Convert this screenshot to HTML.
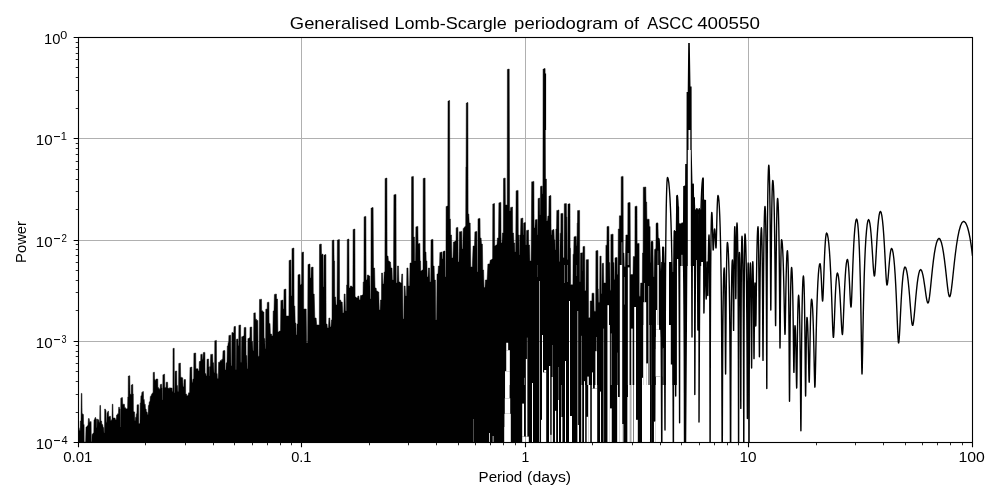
<!DOCTYPE html><html><head><meta charset="utf-8"><style>html,body{margin:0;padding:0;background:#fff}body{width:1000px;height:500px;overflow:hidden;font-family:"Liberation Sans",sans-serif}</style></head><body><svg width="1000" height="500" viewBox="0 0 1000 500" style="display:block;will-change:transform;opacity:0.999">
<rect width="1000" height="500" fill="#fff"/>
<path d="M78.50 37.5V442.5M301.50 37.5V442.5M525.50 37.5V442.5M748.50 37.5V442.5M972.50 37.5V442.5M78.5 37.50H972.5M78.5 138.50H972.5M78.5 240.50H972.5M78.5 341.50H972.5M78.5 442.50H972.5" stroke="#b0b0b0" stroke-width="1" fill="none"/>
<defs><clipPath id="c"><rect x="78.5" y="37.5" width="894.0" height="405.0"/></clipPath></defs>
<g clip-path="url(#c)"><mask id="gm" maskUnits="userSpaceOnUse" x="0" y="0" width="1000" height="500"><rect width="1000" height="500" fill="#fff"/><rect x="505.04" y="385.00" width="4.56" height="13.20" fill="#000" fill-opacity="1.00"/><rect x="504.80" y="398.20" width="5.40" height="15.60" fill="#000" fill-opacity="1.00"/><rect x="504.44" y="413.80" width="6.36" height="13.20" fill="#000" fill-opacity="1.00"/><rect x="504.20" y="427.00" width="6.60" height="16.80" fill="#000" fill-opacity="1.00"/><rect x="505.04" y="371.20" width="4.80" height="13.80" fill="#000" fill-opacity="1.00"/><rect x="506.24" y="350.20" width="3.60" height="21.00" fill="#000" fill-opacity="1.00"/><rect x="506.24" y="342.76" width="1.92" height="7.44" fill="#000" fill-opacity="1.00"/><rect x="522.20" y="403.60" width="1.80" height="33.00" fill="#000" fill-opacity="1.00"/><rect x="522.20" y="436.60" width="6.60" height="7.20" fill="#000" fill-opacity="1.00"/><rect x="525.80" y="385.00" width="1.56" height="51.60" fill="#000" fill-opacity="1.00"/><rect x="525.80" y="358.96" width="1.56" height="26.04" fill="#000" fill-opacity="1.00"/><rect x="526.88" y="337.60" width="0.72" height="21.36" fill="#000" fill-opacity="0.50"/><rect x="524.00" y="377.80" width="0.72" height="7.20" fill="#000" fill-opacity="0.50"/><rect x="532.00" y="383.00" width="1.00" height="63.00" fill="#000" fill-opacity="1.00"/><rect x="539.00" y="281.00" width="1.00" height="165.00" fill="#000" fill-opacity="0.60"/><rect x="537.30" y="265.00" width="0.60" height="12.00" fill="#000" fill-opacity="0.30"/><rect x="541.04" y="419.80" width="0.96" height="24.00" fill="#000" fill-opacity="1.00"/><rect x="542.00" y="385.00" width="4.20" height="58.80" fill="#000" fill-opacity="1.00"/><rect x="542.96" y="372.40" width="3.24" height="12.60" fill="#000" fill-opacity="1.00"/><rect x="544.16" y="370.00" width="2.04" height="2.40" fill="#000" fill-opacity="1.00"/><rect x="542.00" y="335.00" width="1.00" height="51.00" fill="#000" fill-opacity="1.00"/><rect x="550.40" y="434.80" width="1.20" height="9.00" fill="#000" fill-opacity="1.00"/><rect x="549.00" y="366.00" width="1.20" height="80.00" fill="#000" fill-opacity="1.00"/><rect x="551.70" y="377.00" width="1.20" height="69.00" fill="#000" fill-opacity="1.00"/><rect x="552.20" y="345.00" width="0.60" height="32.00" fill="#000" fill-opacity="0.50"/><rect x="554.96" y="410.80" width="1.20" height="33.00" fill="#000" fill-opacity="1.00"/><rect x="558.00" y="400.00" width="1.00" height="46.00" fill="#000" fill-opacity="1.00"/><rect x="558.20" y="367.00" width="0.70" height="33.00" fill="#000" fill-opacity="0.45"/><rect x="561.00" y="417.00" width="1.40" height="29.00" fill="#000" fill-opacity="1.00"/><rect x="561.20" y="385.00" width="0.80" height="32.00" fill="#000" fill-opacity="0.50"/><rect x="565.00" y="361.00" width="1.00" height="85.00" fill="#000" fill-opacity="1.00"/><rect x="569.00" y="301.00" width="1.00" height="145.00" fill="#000" fill-opacity="1.00"/><rect x="569.20" y="416.00" width="2.80" height="30.00" fill="#000" fill-opacity="1.00"/><rect x="577.30" y="311.00" width="0.90" height="114.00" fill="#000" fill-opacity="0.70"/><rect x="577.40" y="425.00" width="1.60" height="21.00" fill="#000" fill-opacity="1.00"/><rect x="581.24" y="385.00" width="0.96" height="58.80" fill="#000" fill-opacity="1.00"/><rect x="581.24" y="335.80" width="0.72" height="49.20" fill="#000" fill-opacity="0.50"/><rect x="584.00" y="385.00" width="1.20" height="58.80" fill="#000" fill-opacity="1.00"/><rect x="584.00" y="381.16" width="0.96" height="3.84" fill="#000" fill-opacity="1.00"/><rect x="586.64" y="416.80" width="1.56" height="27.00" fill="#000" fill-opacity="1.00"/><rect x="588.20" y="385.00" width="2.04" height="58.80" fill="#000" fill-opacity="1.00"/><rect x="587.36" y="376.60" width="1.44" height="8.40" fill="#000" fill-opacity="1.00"/><rect x="591.80" y="388.60" width="5.40" height="55.20" fill="#000" fill-opacity="1.00"/><rect x="591.80" y="385.00" width="1.20" height="3.60" fill="#000" fill-opacity="1.00"/><rect x="594.80" y="385.00" width="2.40" height="3.60" fill="#000" fill-opacity="1.00"/><rect x="592.04" y="372.40" width="0.96" height="12.60" fill="#000" fill-opacity="1.00"/><rect x="595.40" y="351.16" width="1.56" height="33.84" fill="#000" fill-opacity="1.00"/><rect x="596.00" y="337.00" width="0.72" height="14.16" fill="#000" fill-opacity="0.50"/><rect x="600.00" y="391.60" width="0.96" height="52.20" fill="#000" fill-opacity="1.00"/><rect x="603.24" y="328.60" width="0.84" height="115.20" fill="#000" fill-opacity="0.50"/><rect x="607.44" y="305.20" width="1.56" height="19.80" fill="#000" fill-opacity="1.00"/><rect x="607.44" y="325.00" width="2.40" height="118.80" fill="#000" fill-opacity="1.00"/><rect x="609.84" y="408.40" width="1.92" height="35.40" fill="#000" fill-opacity="1.00"/><rect x="610.80" y="333.40" width="0.96" height="51.60" fill="#000" fill-opacity="0.50"/><rect x="617.16" y="352.60" width="0.84" height="32.40" fill="#000" fill-opacity="0.30"/><rect x="617.16" y="385.00" width="0.84" height="58.80" fill="#000" fill-opacity="1.00"/><rect x="618.00" y="397.00" width="1.80" height="46.80" fill="#000" fill-opacity="1.00"/><rect x="621.24" y="242.20" width="1.20" height="22.80" fill="#000" fill-opacity="0.40"/><rect x="619.80" y="265.00" width="2.40" height="178.80" fill="#000" fill-opacity="1.00"/><rect x="622.20" y="424.00" width="1.20" height="19.80" fill="#000" fill-opacity="1.00"/><rect x="624.00" y="277.00" width="0.84" height="27.60" fill="#000" fill-opacity="0.40"/><rect x="627.60" y="253.00" width="1.56" height="12.00" fill="#000" fill-opacity="0.50"/><rect x="627.84" y="267.40" width="1.68" height="117.60" fill="#000" fill-opacity="1.00"/><rect x="627.96" y="385.00" width="1.92" height="58.80" fill="#000" fill-opacity="1.00"/><rect x="627.36" y="397.00" width="0.84" height="46.80" fill="#000" fill-opacity="1.00"/><rect x="630.96" y="328.60" width="1.92" height="56.40" fill="#000" fill-opacity="0.75"/><rect x="630.00" y="385.00" width="0.60" height="58.80" fill="#000" fill-opacity="1.00"/><rect x="630.60" y="385.00" width="0.60" height="58.80" fill="#000" fill-opacity="0.50"/><rect x="631.20" y="385.00" width="1.80" height="58.80" fill="#000" fill-opacity="1.00"/><rect x="633.00" y="385.00" width="0.96" height="58.80" fill="#000" fill-opacity="0.50"/><rect x="633.96" y="385.00" width="2.04" height="58.80" fill="#000" fill-opacity="1.00"/><rect x="634.20" y="307.00" width="1.80" height="78.00" fill="#000" fill-opacity="1.00"/><rect x="636.00" y="419.80" width="1.80" height="24.00" fill="#000" fill-opacity="1.00"/><rect x="642.00" y="385.00" width="8.16" height="58.80" fill="#000" fill-opacity="1.00"/><rect x="643.20" y="325.00" width="3.00" height="60.00" fill="#000" fill-opacity="1.00"/><rect x="642.00" y="377.80" width="1.20" height="7.20" fill="#000" fill-opacity="1.00"/><rect x="646.20" y="363.40" width="1.80" height="21.60" fill="#000" fill-opacity="1.00"/><rect x="648.00" y="325.00" width="2.16" height="60.00" fill="#000" fill-opacity="0.50"/><rect x="643.44" y="302.20" width="2.76" height="22.80" fill="#000" fill-opacity="1.00"/><rect x="644.16" y="283.00" width="0.84" height="19.20" fill="#000" fill-opacity="0.60"/><rect x="648.00" y="286.00" width="1.20" height="39.00" fill="#000" fill-opacity="0.50"/><rect x="650.16" y="385.00" width="1.20" height="58.80" fill="#000" fill-opacity="0.50"/><rect x="651.00" y="325.00" width="0.84" height="60.00" fill="#000" fill-opacity="0.40"/><rect x="657.36" y="265.00" width="1.44" height="60.00" fill="#000" fill-opacity="1.00"/><rect x="655.80" y="310.00" width="1.56" height="15.00" fill="#000" fill-opacity="1.00"/><rect x="655.80" y="325.00" width="3.24" height="4.80" fill="#000" fill-opacity="1.00"/><rect x="655.80" y="329.80" width="4.80" height="7.20" fill="#000" fill-opacity="1.00"/><rect x="655.44" y="337.00" width="6.36" height="12.00" fill="#000" fill-opacity="1.00"/><rect x="655.20" y="349.00" width="7.20" height="27.60" fill="#000" fill-opacity="1.00"/><rect x="655.80" y="376.60" width="6.00" height="8.40" fill="#000" fill-opacity="1.00"/><rect x="655.20" y="385.00" width="6.00" height="58.80" fill="#000" fill-opacity="1.00"/><rect x="653.76" y="421.00" width="1.44" height="22.80" fill="#000" fill-opacity="1.00"/><rect x="657.36" y="250.60" width="0.96" height="14.40" fill="#000" fill-opacity="0.40"/><rect x="688.50" y="130.00" width="1.80" height="20.00" fill="#000" fill-opacity="1.00"/><rect x="687.80" y="150.00" width="3.00" height="117.00" fill="#000" fill-opacity="1.00"/><rect x="676.90" y="259.00" width="2.70" height="8.00" fill="#000" fill-opacity="1.00"/><rect x="681.10" y="254.80" width="1.80" height="12.20" fill="#000" fill-opacity="0.50"/><rect x="695.80" y="260.00" width="2.10" height="7.00" fill="#000" fill-opacity="1.00"/><rect x="701.20" y="262.00" width="1.80" height="5.00" fill="#000" fill-opacity="1.00"/><rect x="698.20" y="214.00" width="0.40" height="46.00" fill="#000" fill-opacity="0.40"/><rect x="663.00" y="348.00" width="0.60" height="37.00" fill="#000" fill-opacity="0.50"/><rect x="473.00" y="419.00" width="0.60" height="27.00" fill="#000" fill-opacity="0.50"/><rect x="489.00" y="433.00" width="1.00" height="13.00" fill="#000" fill-opacity="0.80"/><rect x="492.70" y="436.00" width="0.80" height="10.00" fill="#000" fill-opacity="0.90"/><rect x="564.20" y="265.00" width="0.80" height="18.00" fill="#000" fill-opacity="0.45"/><rect x="567.20" y="265.00" width="0.80" height="17.00" fill="#000" fill-opacity="0.45"/><rect x="576.20" y="265.00" width="0.60" height="11.00" fill="#000" fill-opacity="0.40"/></mask><g mask="url(#gm)"><path d="M78.2 445.5L78.2 427.6L79.0 427.6L79.4 430.6L80.1 430.6L80.3 421.0L81.0 421.0L81.3 393.4L81.9 393.4L82.1 413.8L82.7 413.8L82.9 414.4L83.4 414.4L83.6 424.6L84.1 424.6L84.2 442.0L84.7 442.0L84.9 442.0L85.6 442.0L86.0 427.0L86.8 427.0L87.2 425.8L88.0 425.8L88.4 418.6L89.2 418.6L89.6 422.2L90.3 422.2L90.5 421.6L91.1 421.6L91.3 441.4L91.9 441.4L92.1 434.2L92.8 434.2L93.2 433.0L93.8 433.0L94.0 419.8L94.6 419.8L95.0 417.6L95.7 417.6L96.0 419.2L96.5 419.2L96.6 427.6L97.0 427.6L97.2 419.2L97.8 419.2L98.1 419.8L98.7 419.8L99.0 422.2L99.7 422.2L99.9 405.4L100.5 405.4L100.8 421.0L101.6 421.0L101.9 424.6L102.7 424.6L103.1 427.6L103.7 427.6L104.0 433.0L104.5 433.0L104.7 409.0L105.3 409.0L105.5 410.2L106.0 410.2L106.2 422.2L106.8 422.2L107.1 412.6L107.7 412.6L107.9 411.2L108.5 411.2L108.7 416.8L109.4 416.8L109.7 416.2L110.4 416.2L110.7 420.4L111.3 420.4L111.5 419.8L112.0 419.8L112.3 404.2L112.9 404.2L113.1 418.0L113.8 418.0L114.2 418.0L115.0 418.0L115.4 419.8L116.2 419.8L116.6 415.0L117.3 415.0L117.6 413.8L118.4 413.8L118.7 407.2L119.4 407.2L119.6 409.0L120.1 409.0L120.2 427.0L120.6 427.0L120.8 398.2L121.4 398.2L121.7 397.6L122.4 397.6L122.7 404.2L123.3 404.2L123.6 404.2L124.4 404.2L124.7 407.8L125.6 407.8L125.9 409.0L126.7 409.0L127.0 408.4L127.6 408.4L127.8 397.0L128.2 397.0L128.3 376.0L128.8 376.0L129.2 375.8L129.8 375.8L130.0 394.0L130.5 394.0L130.7 394.6L131.2 394.6L131.3 385.0L131.8 385.0L132.2 384.4L132.8 384.4L132.9 394.0L133.3 394.0L133.4 411.4L133.9 411.4L134.1 412.0L134.6 412.0L134.8 420.4L135.3 420.4L135.5 417.4L136.1 417.4L136.4 413.8L136.9 413.8L137.1 404.8L137.7 404.8L138.0 404.8L138.6 404.8L138.8 423.4L139.3 423.4L139.5 423.4L140.0 423.4L140.2 403.0L140.7 403.0L140.9 395.8L141.6 395.8L141.9 392.2L142.5 392.2L142.8 391.6L143.4 391.6L143.6 399.4L144.2 399.4L144.5 404.2L145.2 404.2L145.5 409.0L146.1 409.0L146.4 412.0L147.1 412.0L147.5 414.4L148.1 414.4L148.4 405.4L149.0 405.4L149.3 401.8L150.0 401.8L150.3 396.4L151.0 396.4L151.4 394.6L151.9 394.6L152.0 393.4L152.4 393.4L152.7 392.8L153.1 392.8L153.2 372.4L153.7 372.4L153.9 372.2L154.4 372.2L154.6 379.6L155.1 379.6L155.3 380.2L155.9 380.2L156.1 379.0L156.8 379.0L157.1 379.0L157.8 379.0L157.9 387.4L158.5 387.4L158.7 388.6L159.3 388.6L159.6 389.2L160.1 389.2L160.3 384.4L160.8 384.4L161.1 384.2L161.6 384.2L161.8 388.0L162.1 388.0L162.2 400.0L162.7 400.0L162.9 374.8L163.6 374.8L164.0 374.2L164.6 374.2L164.8 387.4L165.3 387.4L165.5 387.4L166.1 387.4L166.2 382.2L166.8 382.2L167.1 382.2L167.6 382.2L167.8 388.0L168.3 388.0L168.6 388.6L169.3 388.6L169.5 387.8L170.2 387.8L170.6 388.0L171.3 388.0L171.5 388.0L172.1 388.0L172.3 391.6L172.9 391.6L173.0 348.4L173.5 348.4L173.7 348.2L174.2 348.2L174.3 392.8L174.9 392.8L175.1 371.2L175.7 371.2L176.0 371.0L176.7 371.0L176.9 385.6L177.5 385.6L177.8 391.6L178.5 391.6L178.8 363.4L179.5 363.4L179.7 363.0L180.4 363.0L180.7 377.2L181.5 377.2L181.8 377.8L182.7 377.8L183.0 386.8L183.8 386.8L184.1 379.6L184.7 379.6L184.9 379.6L185.5 379.6L185.7 394.0L186.5 394.0L186.9 395.8L188.0 395.8L188.6 392.8L189.6 392.8L190.0 367.4L190.8 367.4L191.2 367.0L191.8 367.0L192.0 382.6L192.6 382.6L193.0 379.0L193.7 379.0L193.9 353.2L194.7 353.2L195.0 353.0L195.7 353.0L195.9 368.8L196.6 368.8L196.9 368.8L197.9 368.8L198.3 371.0L199.1 371.0L199.3 361.6L200.0 361.6L200.3 361.0L200.7 361.0L200.8 354.4L201.3 354.4L201.6 354.2L202.2 354.2L202.4 359.2L203.0 359.2L203.3 352.6L204.0 352.6L204.3 352.4L204.9 352.4L205.1 373.6L205.8 373.6L206.2 376.0L206.8 376.0L207.0 359.2L207.6 359.2L208.0 359.0L208.6 359.0L208.8 367.0L209.2 367.0L209.3 376.0L209.7 376.0L209.8 366.4L210.3 366.4L210.7 354.4L211.5 354.4L211.8 354.2L212.6 354.2L212.9 362.8L213.6 362.8L214.0 372.4L214.6 372.4L214.8 340.8L215.4 340.8L215.8 340.4L216.4 340.4L216.6 373.6L217.1 373.6L217.3 378.4L218.2 378.4L218.6 362.2L219.8 362.2L220.4 360.4L221.5 360.4L221.9 359.2L222.7 359.2L223.0 350.8L223.8 350.8L224.1 350.6L224.9 350.6L225.1 370.0L225.9 370.0L226.2 362.8L227.0 362.8L227.3 346.0L227.9 346.0L228.2 342.4L228.7 342.4L228.9 335.4L229.5 335.4L229.8 335.2L230.7 335.2L231.0 365.8L231.7 365.8L231.9 332.6L232.7 332.6L233.1 333.0L233.8 333.0L234.0 326.6L234.6 326.6L234.9 326.4L235.5 326.4L235.7 369.4L236.2 369.4L236.5 339.2L237.1 339.2L237.3 339.0L237.9 339.0L238.1 345.4L238.7 345.4L238.9 325.2L239.6 325.2L239.9 325.0L240.6 325.0L240.8 362.2L241.4 362.2L241.7 336.8L242.6 336.8L243.2 336.0L244.0 336.0L244.2 327.6L244.8 327.6L245.2 327.4L245.9 327.4L246.1 355.6L246.8 355.6L247.1 368.8L247.7 368.8L247.9 338.6L248.8 338.6L249.2 337.8L249.9 337.8L250.0 327.2L250.6 327.2L250.9 327.0L251.7 327.0L251.9 341.4L252.6 341.4L253.0 350.8L253.6 350.8L253.8 313.1L254.4 313.1L254.7 312.8L255.3 312.8L255.5 319.2L256.4 319.2L256.8 320.4L257.8 320.4L258.1 356.2L259.1 356.2L259.5 299.4L260.4 299.4L260.8 299.2L261.5 299.2L261.7 310.8L262.6 310.8L263.0 312.0L263.9 312.0L264.1 338.4L264.8 338.4L265.1 348.4L265.6 348.4L265.8 309.2L266.3 309.2L266.6 309.0L267.2 309.0L267.3 302.4L267.9 302.4L268.3 302.2L268.9 302.2L269.1 323.4L270.0 323.4L270.4 334.0L271.5 334.0L271.9 336.0L272.8 336.0L273.2 311.0L274.0 311.0L274.4 294.4L275.2 294.4L275.6 294.0L276.4 294.0L276.6 299.0L277.5 299.0L277.9 332.0L279.0 332.0L279.4 331.0L280.5 331.0L280.9 300.4L281.8 300.4L282.2 300.0L282.9 300.0L283.1 309.0L283.8 309.0L284.0 289.4L284.8 289.4L285.2 289.0L285.9 289.0L286.1 316.0L287.2 316.0L287.8 316.0L288.9 316.0L289.1 260.4L289.8 260.4L290.2 260.0L290.9 260.0L291.1 296.0L291.8 296.0L292.0 248.4L292.8 248.4L293.2 248.0L293.9 248.0L294.1 306.0L294.8 306.0L295.2 323.0L295.9 323.0L296.1 335.0L296.8 335.0L297.0 324.0L297.8 324.0L298.0 274.8L298.8 274.8L299.2 274.4L300.0 274.4L300.2 285.0L301.0 285.0L301.2 284.0L301.7 284.0L301.9 252.4L302.4 252.4L302.8 252.0L303.5 252.0L303.7 309.0L304.6 309.0L305.0 309.0L306.2 309.0L306.6 343.0L307.6 343.0L308.0 264.4L308.8 264.4L309.2 264.0L310.0 264.0L310.2 278.0L311.0 278.0L311.2 267.4L312.0 267.4L312.4 267.0L313.1 267.0L313.3 294.0L314.2 294.0L314.8 318.0L316.1 318.0L316.7 325.0L318.0 325.0L318.4 325.0L319.3 325.0L319.5 244.4L320.2 244.4L320.6 244.0L321.3 244.0L321.5 254.4L322.2 254.4L322.4 254.0L323.0 254.0L323.2 287.0L323.8 287.0L324.0 255.0L324.8 255.0L325.2 254.6L325.9 254.6L326.1 324.0L327.0 324.0L327.4 328.0L328.5 328.0L328.9 318.0L329.8 318.0L330.2 327.0L331.0 327.0L331.4 320.0L332.0 320.0L332.2 240.4L332.8 240.4L333.2 240.0L333.9 240.0L334.1 261.0L334.6 261.0L334.8 297.0L335.6 297.0L336.0 305.0L337.0 305.0L337.4 240.0L338.2 240.0L338.6 239.6L339.4 239.6L339.6 300.0L340.6 300.0L341.0 302.0L342.2 302.0L342.8 313.0L343.8 313.0L344.2 294.0L345.1 294.0L345.5 311.0L346.4 311.0L346.6 285.0L347.1 285.0L347.3 239.4L347.8 239.4L348.2 239.0L348.9 239.0L349.1 288.0L350.0 288.0L350.4 286.0L351.6 286.0L352.0 287.0L352.9 287.0L353.1 229.4L353.8 229.4L354.2 229.0L354.9 229.0L355.1 297.0L356.0 297.0L356.4 298.0L357.5 298.0L357.9 296.0L358.8 296.0L359.2 300.0L360.1 300.0L360.5 295.6L361.6 295.6L362.0 295.0L363.0 295.0L363.2 282.0L363.9 282.0L364.1 216.8L364.8 216.8L365.2 216.4L365.9 216.4L366.1 280.0L367.0 280.0L367.4 275.0L368.5 275.0L368.9 276.0L369.8 276.0L370.2 299.0L370.9 299.0L371.1 208.0L371.8 208.0L372.2 207.6L373.1 207.6L373.5 268.0L374.6 268.0L375.0 288.0L376.1 288.0L376.5 291.0L377.5 291.0L377.9 292.0L378.8 292.0L379.2 310.0L380.1 310.0L380.5 300.0L381.4 300.0L381.6 273.0L382.5 273.0L382.9 284.0L383.8 284.0L384.2 272.0L384.9 272.0L385.1 178.4L385.8 178.4L386.2 178.0L386.9 178.0L387.1 256.0L388.0 256.0L388.4 261.0L389.4 261.0L389.6 262.0L390.5 262.0L390.9 268.0L392.0 268.0L392.4 280.0L393.5 280.0L393.9 194.8L394.8 194.8L395.2 194.4L396.0 194.4L396.2 283.0L397.1 283.0L397.5 266.0L398.5 266.0L398.9 282.0L400.0 282.0L400.4 283.0L401.4 283.0L401.8 274.0L402.6 274.0L403.0 319.0L403.8 319.0L404.2 286.0L405.1 286.0L405.5 296.0L406.5 296.0L406.9 268.0L408.0 268.0L408.4 286.0L409.6 286.0L410.0 263.0L410.8 263.0L411.0 263.0L411.4 263.0L411.6 176.8L412.2 176.8L412.6 176.4L413.4 176.4L413.6 237.0L414.4 237.0L414.6 261.0L415.5 261.0L415.9 226.8L416.8 226.8L417.2 226.4L417.9 226.4L418.1 243.8L418.8 243.8L419.2 243.4L419.9 243.4L420.1 261.0L420.6 261.0L420.8 271.0L421.6 271.0L422.0 270.0L423.0 270.0L423.2 178.4L424.0 178.4L424.4 178.0L425.1 178.0L425.3 252.0L426.0 252.0L426.2 261.0L426.9 261.0L427.1 277.0L428.0 277.0L428.4 268.0L429.5 268.0L429.9 282.0L430.8 282.0L431.0 239.8L431.8 239.8L432.2 239.4L433.0 239.4L433.2 266.0L434.1 266.0L434.5 280.0L435.4 280.0L435.8 320.0L436.6 320.0L437.0 274.0L438.0 274.0L438.4 266.0L439.5 266.0L439.9 252.4L440.8 252.4L441.2 252.0L441.9 252.0L442.1 259.0L442.8 259.0L443.0 251.4L443.8 251.4L444.2 251.0L445.0 251.0L445.2 277.0L445.9 277.0L446.1 206.4L446.8 206.4L447.2 206.0L447.8 206.0L448.0 101.0L448.6 101.0L449.0 100.6L449.6 100.6L449.8 219.0L450.4 219.0L450.6 235.0L451.5 235.0L451.9 258.0L453.0 258.0L453.4 242.0L454.6 242.0L455.0 241.0L456.0 241.0L456.2 227.8L457.0 227.8L457.2 227.4L457.9 227.4L458.1 262.0L459.0 262.0L459.4 231.8L460.5 231.8L460.9 231.4L461.8 231.4L462.0 249.0L462.8 249.0L463.2 228.4L464.0 228.4L464.4 227.0L465.1 227.0L465.3 226.0L465.7 226.0L465.9 167.0L466.1 167.0L466.3 103.0L466.8 103.0L467.2 102.6L467.9 102.6L468.1 214.0L468.8 214.0L469.2 223.0L470.2 223.0L470.8 267.0L472.3 267.0L473.1 246.0L474.5 246.0L474.9 231.8L475.8 231.8L476.2 231.4L476.9 231.4L477.1 272.0L477.8 272.0L478.0 218.8L478.8 218.8L479.2 218.4L480.0 218.4L480.2 238.0L481.1 238.0L481.5 244.0L482.4 244.0L482.8 270.0L483.6 270.0L484.0 287.6L485.0 287.6L485.4 280.0L487.1 280.0L487.9 264.0L489.7 264.0L490.3 260.0L491.5 260.0L491.9 259.0L492.6 259.0L492.8 204.0L493.4 204.0L493.8 203.6L494.5 203.6L494.7 246.0L495.5 246.0L495.9 245.0L497.0 245.0L497.4 238.0L498.5 238.0L498.9 202.8L499.8 202.8L500.2 202.4L500.9 202.4L501.1 243.0L502.0 243.0L502.4 233.0L503.3 233.0L503.5 178.4L504.2 178.4L504.6 178.0L505.2 178.0L505.4 205.0L506.1 205.0L506.5 205.0L507.2 205.0L507.4 69.4L508.0 69.4L508.4 69.0L509.2 69.0L509.6 211.0L510.4 211.0L510.6 207.4L511.4 207.4L511.8 207.0L512.5 207.0L512.7 233.0L513.5 233.0L513.9 243.0L514.7 243.0L514.9 252.0L515.7 252.0L516.1 190.8L517.0 190.8L517.4 190.4L518.1 190.4L518.3 235.0L518.9 235.0L519.1 255.0L519.6 255.0L519.8 235.0L520.5 235.0L520.9 218.4L521.8 218.4L522.2 218.0L522.8 218.0L523.0 235.0L523.5 235.0L523.7 223.0L524.4 223.0L524.6 222.6L525.4 222.6L525.6 245.0L526.4 245.0L526.6 230.4L527.4 230.4L527.8 230.0L528.5 230.0L528.7 245.0L529.5 245.0L529.9 261.0L531.1 261.0L531.7 181.8L532.8 181.8L533.2 181.4L533.9 181.4L534.1 228.0L534.9 228.0L535.3 219.8L536.2 219.8L536.6 219.4L537.2 219.4L537.4 235.0L537.9 235.0L538.1 198.4L538.8 198.4L539.2 198.0L539.7 198.0L539.9 215.0L540.3 215.0L540.5 186.4L541.2 186.4L541.6 186.0L542.2 186.0L542.4 194.0L542.9 194.0L543.1 69.0L543.8 69.0L544.2 68.6L545.1 68.6L545.5 179.0L546.4 179.0L546.6 221.0L547.5 221.0L547.9 216.0L548.8 216.0L549.0 196.0L549.8 196.0L550.2 195.6L550.9 195.6L551.1 235.0L551.6 235.0L551.8 230.2L552.6 230.2L553.0 229.6L554.0 229.6L554.3 239.8L554.9 239.8L555.1 250.0L555.7 250.0L555.9 229.0L556.5 229.0L556.8 210.4L557.7 210.4L558.1 210.0L558.9 210.0L559.1 261.4L559.8 261.4L560.2 233.2L560.8 233.2L560.9 213.6L561.6 213.6L562.1 213.4L562.9 213.4L563.0 257.8L563.5 257.8L563.6 257.8L564.1 257.8L564.3 203.8L565.2 203.8L565.6 203.6L566.4 203.6L566.5 217.0L566.9 217.0L567.1 259.6L567.7 259.6L568.0 204.0L568.8 204.0L569.3 203.8L570.0 203.8L570.1 248.2L570.5 248.2L570.7 284.8L571.6 284.8L572.0 284.8L572.9 284.8L573.1 254.2L573.7 254.2L574.0 236.8L574.8 236.8L575.3 236.4L576.2 236.4L576.5 245.8L577.0 245.8L577.2 223.0L577.5 223.0L577.6 210.6L578.4 210.6L578.8 210.4L579.6 210.4L579.7 281.8L580.3 281.8L580.6 253.0L581.5 253.0L581.9 252.8L582.6 252.8L582.7 271.0L582.9 271.0L583.0 246.6L583.6 246.6L584.0 246.4L584.7 246.4L584.9 290.8L585.3 290.8L585.5 290.8L586.0 290.8L586.2 259.8L587.2 259.8L587.7 259.6L588.4 259.6L588.5 317.8L589.1 317.8L589.5 317.8L590.1 317.8L590.2 301.0L590.8 301.0L591.2 301.0L591.9 301.0L592.0 293.2L592.6 293.2L593.0 293.2L593.9 293.2L594.2 311.2L594.9 311.2L595.1 311.2L595.7 311.2L595.9 250.8L596.7 250.8L597.1 250.6L597.9 250.6L598.0 289.0L598.3 289.0L598.5 302.2L598.8 302.2L598.9 302.2L599.6 302.2L599.9 256.2L600.6 256.2L600.7 256.0L601.1 256.0L601.3 293.8L601.9 293.8L602.2 263.4L602.8 263.4L602.9 263.2L603.5 263.2L603.8 283.0L604.8 283.0L605.2 283.0L605.8 283.0L605.9 245.2L606.3 245.2L606.5 245.2L606.9 245.2L607.0 226.6L607.6 226.6L608.1 226.4L608.9 226.4L609.1 262.6L609.8 262.6L610.1 290.2L610.8 290.2L610.9 234.4L611.8 234.4L612.2 234.2L613.1 234.2L613.2 262.6L613.9 262.6L614.2 279.4L614.9 279.4L615.0 257.8L615.8 257.8L616.2 257.6L617.1 257.6L617.3 274.6L618.0 274.6L618.3 229.0L618.8 229.0L619.0 229.0L619.3 229.0L619.4 215.8L620.0 215.8L620.4 215.8L621.1 215.8L621.2 176.7L621.9 176.7L622.3 176.4L623.1 176.4L623.3 253.0L624.0 253.0L624.3 266.8L625.3 266.8L625.9 235.0L627.0 235.0L627.3 235.0L627.8 235.0L627.9 202.8L628.6 202.8L629.1 202.6L630.1 202.6L630.5 274.6L631.6 274.6L632.0 274.6L633.0 274.6L633.3 256.6L634.1 256.6L634.4 256.6L634.9 256.6L635.0 206.4L635.8 206.4L636.2 206.2L637.0 206.2L637.1 243.4L637.8 243.4L638.3 243.4L639.1 243.4L639.2 296.2L639.6 296.2L639.7 296.2L640.3 296.2L640.7 283.0L641.4 283.0L641.7 283.0L642.3 283.0L642.5 253.0L643.1 253.0L643.3 187.2L644.4 187.2L645.0 187.0L645.8 187.0L646.0 202.0L646.3 202.0L646.4 202.0L646.7 202.0L646.9 219.2L647.7 219.2L648.3 219.2L649.1 219.2L649.3 226.6L649.6 226.6L649.7 226.6L650.1 226.6L650.2 262.6L650.7 262.6L651.0 241.8L651.8 241.8L652.2 241.6L653.0 241.6L653.3 277.0L654.2 277.0L654.6 249.4L655.5 249.4L655.7 249.4L656.0 249.4L656.1 223.5L656.8 223.5L657.2 223.2L658.0 223.2L658.1 238.6L658.5 238.6L658.7 238.6L659.2 238.6L659.4 268.6L660.0 268.6L660.0 445.5Z" fill="#000" stroke="#000" stroke-width="0.5" stroke-linejoin="miter"/><path d="M673.9 266V231H676.2V195.6H677.9L678.3 206L679.1 207L679.2 223.6H683L683.2 186.1H685.1L685.2 164H686.5L686.6 92H687.7L688.2 43H689.8L690.5 86.6H691.6L691.7 150L692.5 184H693.7V198H694.9L695.2 209.5H697L697.3 208L697.8 209.5H701.2L701.3 199.5H702.2V178.3H703.8V199.5L706.1 200L706.3 266Z" fill="#000"/>
<path d="M658.8 300V250L659.8 262L660 271H661L661.2 262H662.2V247H664.2L664.4 262L665.8 265V385H662.4V349L661.2 337L660 330V325Z" fill="#000"/>
<path d="M669 325V262H672L672.1 272H673.8L673.9 262H676.8V385H672.6V364.6H670.8V325Z" fill="#000"/>
<path d="M544.9 73.5H546.1V130H544.9Z" fill="#000"/>
</g><path d="M650.60 470.00L650.62 470.00L650.66 445.01L650.72 408.25L650.79 374.34L650.87 345.93L650.96 322.36L651.06 302.73L651.17 286.36L651.29 272.81L651.42 261.79L651.55 253.16L651.69 246.86L651.84 242.96L652.00 241.60L652.11 242.96L652.22 246.86L652.32 253.16L652.42 261.79L652.51 272.81L652.59 286.36L652.67 302.73L652.74 322.36L652.81 345.93L652.87 374.34L652.91 408.25L652.96 445.01L652.99 470.00L653.00 470.00L653.01 470.00L653.04 459.44L653.08 433.89L653.12 405.57L653.17 379.67L653.23 357.29L653.30 338.28L653.37 322.26L653.44 308.92L653.53 298.03L653.61 289.47L653.70 283.23L653.80 279.35L653.90 278.00L653.98 279.31L654.05 283.07L654.12 289.11L654.19 297.33L654.25 307.69L654.31 320.20L654.37 334.85L654.42 351.52L654.47 369.80L654.51 388.45L654.54 404.95L654.57 415.98L654.59 420.42L654.60 421.00L654.62 419.87L654.66 411.60L654.72 393.51L654.79 370.39L654.87 347.29L654.96 326.38L655.06 308.16L655.17 292.60L655.29 279.53L655.42 268.80L655.55 260.36L655.69 254.18L655.84 250.34L656.00 249.00L656.04 249.12L656.09 249.44L656.13 249.90L656.17 250.44L656.20 251.00L656.24 251.53L656.27 251.98L656.30 252.35L656.32 252.63L656.35 252.82L656.37 252.93L656.38 252.98L656.39 253.00L656.40 253.00L656.41 252.98L656.43 252.79L656.45 252.25L656.48 251.16L656.52 249.37L656.55 246.84L656.60 243.62L656.65 239.90L656.70 235.93L656.75 232.04L656.81 228.54L656.87 225.72L656.93 223.87L657.00 223.20L657.10 223.69L657.20 225.04L657.29 227.07L657.37 229.53L657.46 232.20L657.53 234.85L657.60 237.26L657.67 239.28L657.73 240.84L657.78 241.91L657.82 242.56L657.86 242.88L657.89 242.99L657.90 243.00L657.91 243.00L657.93 242.98L657.96 242.92L657.99 242.80L658.03 242.59L658.08 242.29L658.13 241.88L658.19 241.37L658.25 240.79L658.31 240.18L658.38 239.58L658.45 239.08L658.52 238.73L658.60 238.60L658.96 239.96L659.30 243.86L659.62 250.16L659.93 258.80L660.22 269.82L660.49 283.39L660.74 299.77L660.98 319.43L661.18 343.07L661.37 371.62L661.53 405.88L661.66 443.50L661.75 470.00L661.80 470.00L661.82 470.00L661.85 447.61L661.90 412.43L661.96 379.19L662.03 351.05L662.11 327.61L662.20 308.04L662.29 291.71L662.39 278.18L662.50 267.17L662.62 258.55L662.74 252.26L662.87 248.36L663.00 247.00L663.22 248.34L663.44 252.20L663.64 258.42L663.83 266.92L664.01 277.73L664.18 290.94L664.34 306.73L664.48 325.35L664.61 346.98L664.73 371.43L664.83 396.95L664.91 418.21L664.97 428.55L665.00 430.00L665.04 423.28L665.11 389.43L665.21 347.53L665.34 311.67L665.48 282.49L665.64 258.57L665.82 238.76L666.02 222.30L666.23 208.69L666.46 197.64L666.70 188.98L666.95 182.67L667.22 178.76L667.50 177.40L668.16 178.76L668.79 182.68L669.39 189.01L669.96 197.69L670.49 208.78L670.99 222.46L671.45 239.04L671.88 259.05L672.26 283.39L672.61 313.54L672.90 351.99L673.14 402.28L673.31 458.34L673.40 470.00L673.41 469.38L673.44 439.31L673.49 399.56L673.53 364.48L673.59 335.59L673.66 311.81L673.73 292.07L673.81 275.64L673.89 262.06L673.98 251.02L674.08 242.37L674.18 236.07L674.29 232.16L674.40 230.80L674.55 232.13L674.68 235.96L674.82 242.11L674.94 250.52L675.06 261.18L675.17 274.15L675.27 289.54L675.36 307.46L675.45 327.86L675.52 350.02L675.59 371.60L675.64 387.85L675.68 395.04L675.70 396.00L675.72 393.84L675.77 379.32L675.84 352.64L675.92 323.66L676.01 297.43L676.11 274.90L676.23 255.80L676.35 239.73L676.49 226.36L676.63 215.45L676.79 206.88L676.95 200.63L677.12 196.75L677.30 195.40L677.56 196.76L677.80 200.66L678.04 206.95L678.26 215.57L678.47 226.58L678.66 240.10L678.84 256.43L679.01 275.99L679.16 299.42L679.29 327.52L679.40 360.68L679.50 395.69L679.57 418.89L679.60 422.80L679.60 420.74L679.61 406.75L679.63 380.70L679.64 352.08L679.66 326.03L679.68 303.59L679.70 284.54L679.72 268.50L679.75 255.14L679.78 244.24L679.80 235.68L679.83 229.43L679.87 225.55L679.90 224.20L679.97 224.56L680.03 225.56L680.09 227.04L680.15 228.82L680.20 230.71L680.25 232.55L680.30 234.19L680.35 235.55L680.38 236.58L680.42 237.29L680.45 237.71L680.47 237.92L680.49 237.99L680.50 238.00L680.52 237.99L680.58 237.91L680.64 237.68L680.73 237.22L680.83 236.44L680.94 235.31L681.06 233.82L681.19 232.02L681.34 230.02L681.49 227.97L681.66 226.06L681.83 224.46L682.01 223.39L682.20 223.00L682.47 224.36L682.72 228.27L682.97 234.58L683.20 243.23L683.42 254.29L683.62 267.89L683.81 284.35L683.98 304.16L684.14 328.07L684.28 357.24L684.40 393.04L684.49 434.79L684.56 468.36L684.60 470.00L684.61 460.88L684.62 409.11L684.63 360.02L684.65 321.91L684.68 291.88L684.70 267.59L684.73 247.60L684.76 231.04L684.80 217.37L684.83 206.28L684.87 197.60L684.91 191.28L684.96 187.36L685.00 186.00L685.04 187.36L685.09 191.28L685.13 197.60L685.17 206.28L685.20 217.37L685.24 231.04L685.27 247.60L685.30 267.59L685.32 291.88L685.35 321.91L685.37 360.02L685.38 409.11L685.39 460.88L685.40 470.00L686.70 266.00M691.70 266.00L692.00 337.00L692.01 336.27L692.04 330.74L692.09 317.51L692.13 298.73L692.19 278.42L692.26 259.11L692.33 241.81L692.41 226.78L692.49 214.04L692.58 203.53L692.68 195.21L692.78 189.12L692.89 185.32L693.00 184.00L693.07 184.41L693.13 185.55L693.19 187.23L693.25 189.27L693.30 191.45L693.35 193.58L693.40 195.50L693.45 197.10L693.48 198.32L693.52 199.16L693.55 199.66L693.57 199.91L693.59 199.99L693.60 200.00L693.61 200.00L693.63 199.99L693.65 199.96L693.68 199.90L693.72 199.80L693.75 199.65L693.80 199.45L693.85 199.20L693.90 198.91L693.95 198.60L694.01 198.30L694.07 198.04L694.13 197.87L694.20 197.80L694.27 199.15L694.33 203.02L694.39 209.27L694.45 217.83L694.50 228.72L694.55 242.06L694.60 258.08L694.65 277.08L694.68 299.45L694.72 325.33L694.75 353.61L694.77 379.10L694.79 392.62L694.80 394.60L694.83 393.05L694.89 382.08L694.97 359.91L695.07 333.77L695.19 308.98L695.32 287.17L695.46 268.46L695.62 252.62L695.79 239.37L695.97 228.54L696.16 220.03L696.36 213.81L696.58 209.94L696.80 208.60L696.92 209.88L697.04 213.53L697.15 219.39L697.26 227.31L697.36 237.22L697.45 249.03L697.54 262.57L697.62 277.52L697.69 293.10L697.75 307.88L697.81 319.74L697.85 326.94L697.88 329.66L697.90 330.00L697.92 329.66L697.96 326.94L698.02 319.74L698.09 307.88L698.17 293.10L698.26 277.52L698.36 262.57L698.47 249.03L698.59 237.22L698.72 227.31L698.85 219.39L698.99 213.53L699.14 209.88L699.30 208.60L699.27 209.95L699.23 213.84L699.20 220.12L699.18 228.72L699.15 239.68L699.12 253.14L699.10 269.35L699.08 288.70L699.06 311.72L699.04 338.95L699.03 370.11L699.01 400.82L699.00 419.13L699.00 422.00L699.06 416.40L699.18 386.43L699.34 346.72L699.54 311.66L699.77 282.79L700.03 259.00L700.32 239.27L700.63 222.84L700.97 209.26L701.33 198.22L701.72 189.57L702.13 183.27L702.55 179.36L703.00 178.00L703.10 179.30L703.20 183.03L703.29 189.01L703.37 197.14L703.46 207.35L703.53 219.64L703.60 233.92L703.67 250.02L703.73 267.37L703.78 284.62L703.82 299.34L703.86 308.81L703.89 312.52L703.90 313.00L703.92 312.95L703.95 312.53L703.99 311.32L704.05 308.94L704.11 305.19L704.18 300.14L704.26 294.10L704.35 287.54L704.44 280.98L704.54 274.89L704.65 269.64L704.76 265.56L704.88 262.93L705.00 262.00L705.13 262.77L705.26 264.93L705.38 268.23L705.50 272.39L705.61 277.10L705.71 281.98L705.80 286.67L705.89 290.81L705.97 294.13L706.04 296.51L706.10 297.98L706.15 298.72L706.18 298.97L706.20 299.00L706.21 298.97L706.24 298.72L706.27 297.98L706.31 296.51L706.35 294.13L706.41 290.81L706.46 286.67L706.53 281.98L706.59 277.10L706.67 272.39L706.74 268.23L706.83 264.93L706.91 262.77L707.00 262.00L707.09 262.72L707.17 264.75L707.26 267.83L707.33 271.69L707.41 276.01L707.47 280.46L707.54 284.70L707.59 288.40L707.65 291.34L707.69 293.43L707.73 294.71L707.76 295.36L707.79 295.57L707.80 295.60L707.82 295.53L707.85 294.97L707.90 293.34L707.96 290.19L708.03 285.32L708.11 278.94L708.20 271.55L708.29 263.76L708.39 256.16L708.50 249.25L708.62 243.39L708.74 238.89L708.87 236.02L709.00 235.00L709.12 236.36L709.24 240.26L709.35 246.57L709.46 255.21L709.56 266.24L709.65 279.81L709.74 296.22L709.82 315.92L709.89 339.63L709.95 368.34L710.01 402.99L710.05 441.61L710.08 469.86L710.10 470.00L710.12 466.71L710.18 428.12L710.24 383.90L710.33 347.26L710.43 317.77L710.54 293.72L710.66 273.85L710.79 257.35L710.94 243.72L711.09 232.65L711.26 223.99L711.43 217.67L711.61 213.76L711.80 212.40L711.96 213.18L712.11 215.36L712.25 218.70L712.38 222.91L712.51 227.68L712.63 232.64L712.74 237.41L712.84 241.63L712.93 245.02L713.01 247.45L713.08 248.96L713.14 249.71L713.18 249.97L713.20 250.00L713.22 249.99L713.26 249.87L713.32 249.53L713.39 248.83L713.47 247.67L713.56 246.01L713.66 243.85L713.77 241.28L713.89 238.48L714.02 235.66L714.15 233.06L714.29 230.93L714.44 229.51L714.60 229.00L714.76 229.47L714.91 230.78L715.05 232.74L715.18 235.11L715.31 237.68L715.43 240.22L715.54 242.53L715.64 244.46L715.73 245.94L715.81 246.96L715.88 247.58L715.94 247.88L715.98 247.99L716.00 248.00L716.03 247.95L716.09 247.51L716.17 246.24L716.27 243.74L716.39 239.81L716.52 234.54L716.66 228.28L716.82 221.51L716.99 214.77L717.17 208.53L717.36 203.17L717.56 199.02L717.78 196.35L718.00 195.40L718.47 196.76L718.92 200.68L719.34 207.00L719.75 215.67L720.13 226.76L720.48 240.41L720.81 256.96L721.12 276.91L721.39 301.13L721.63 331.00L721.84 368.68L722.01 416.24L722.14 463.27L722.20 470.00L722.23 470.00L722.29 456.18L722.37 427.48L722.47 397.37L722.59 370.61L722.72 347.82L722.86 328.59L723.02 312.44L723.19 299.02L723.37 288.09L723.56 279.50L723.76 273.24L723.98 269.35L724.20 268.00L724.36 269.24L724.51 272.79L724.65 278.44L724.78 286.06L724.91 295.50L725.03 306.59L725.14 319.07L725.24 332.43L725.33 345.78L725.41 357.74L725.48 366.73L725.54 371.88L725.58 373.76L725.60 374.00L725.63 373.56L725.68 370.12L725.75 361.26L725.84 347.29L725.95 330.64L726.06 313.71L726.19 297.88L726.34 283.76L726.49 271.59L726.65 261.44L726.82 253.36L727.01 247.41L727.20 243.69L727.40 242.40L727.76 243.76L728.10 247.66L728.42 253.96L728.73 262.59L729.02 273.60L729.29 287.15L729.54 303.51L729.78 323.14L729.98 346.69L730.17 375.06L730.33 408.87L730.46 445.41L730.55 470.00L730.60 470.00L730.63 470.00L730.68 453.20L730.75 421.99L730.84 390.58L730.95 363.24L731.06 340.16L731.19 320.78L731.34 304.56L731.49 291.09L731.65 280.12L731.82 271.52L732.01 265.25L732.20 261.35L732.40 260.00L732.53 261.09L732.66 264.17L732.78 269.02L732.90 275.40L733.01 283.03L733.11 291.58L733.20 300.56L733.29 309.34L733.37 317.17L733.44 323.32L733.50 327.42L733.55 329.56L733.58 330.31L733.60 330.40L733.62 330.18L733.65 328.39L733.70 323.49L733.76 314.87L733.83 303.31L733.91 290.30L734.00 277.18L734.09 264.88L734.19 253.90L734.30 244.55L734.42 236.98L734.54 231.36L734.67 227.83L734.80 226.60L734.91 227.69L735.02 230.81L735.12 235.71L735.22 242.16L735.31 249.91L735.39 258.60L735.47 267.77L735.54 276.77L735.61 284.84L735.67 291.22L735.71 295.48L735.76 297.72L735.79 298.50L735.80 298.60L735.82 298.49L735.85 297.63L735.90 295.17L735.96 290.50L736.03 283.60L736.11 274.99L736.20 265.48L736.29 255.90L736.39 246.89L736.50 238.92L736.62 232.30L736.74 227.29L736.87 224.12L737.00 223.00L737.18 224.36L737.35 228.27L737.51 234.58L737.67 243.23L737.81 254.29L737.95 267.89L738.07 284.35L738.19 304.16L738.29 328.07L738.38 357.24L738.46 393.04L738.53 434.79L738.58 468.36L738.60 470.00L738.61 470.00L738.64 450.05L738.67 416.49L738.71 383.97L738.75 356.14L738.81 332.84L738.86 313.34L738.93 297.05L738.99 283.55L739.07 272.56L739.14 263.94L739.23 257.65L739.31 253.75L739.40 252.40L739.56 253.72L739.71 257.53L739.85 263.64L739.98 271.98L740.11 282.53L740.23 295.34L740.34 310.46L740.44 327.92L740.53 347.52L740.61 368.31L740.68 387.78L740.74 401.72L740.78 407.62L740.80 408.40L740.82 407.27L740.85 398.96L740.90 380.81L740.96 357.65L741.03 334.53L741.11 313.60L741.20 295.38L741.29 279.81L741.39 266.73L741.50 256.01L741.62 247.56L741.74 241.38L741.87 237.54L742.00 236.20L742.20 237.56L742.39 241.46L742.58 247.76L742.75 256.41L742.91 267.43L743.06 281.00L743.21 297.40L743.34 317.09L743.45 340.77L743.56 369.44L743.65 403.95L743.72 442.25L743.77 470.00L743.80 470.00L743.82 469.75L743.85 441.07L743.90 402.18L743.96 367.42L744.03 338.67L744.11 314.94L744.20 295.23L744.29 278.82L744.39 265.24L744.50 254.21L744.62 245.57L744.74 239.27L744.87 235.36L745.00 234.00L745.27 235.34L745.52 239.20L745.77 245.42L746.00 253.93L746.22 264.75L746.42 277.98L746.61 293.80L746.78 312.47L746.94 334.20L747.08 358.83L747.20 384.68L747.29 406.42L747.36 417.10L747.40 418.60L747.41 417.83L747.44 411.97L747.47 398.13L747.51 378.76L747.55 358.03L747.61 338.47L747.66 321.03L747.73 305.92L747.79 293.12L747.87 282.57L747.94 274.24L748.03 268.13L748.11 264.32L748.20 263.00L748.29 264.35L748.37 268.24L748.46 274.52L748.53 283.11L748.61 294.07L748.67 307.52L748.74 323.71L748.79 343.04L748.85 366.01L748.89 393.15L748.93 424.08L748.96 454.36L748.99 470.00L749.00 470.00L749.02 470.00L749.06 454.36L749.12 424.08L749.19 393.15L749.27 366.01L749.36 343.04L749.46 323.71L749.57 307.52L749.69 294.07L749.82 283.11L749.95 274.52L750.09 268.24L750.24 264.35L750.40 263.00L750.53 264.24L750.66 267.78L750.78 273.42L750.90 281.01L751.01 290.41L751.11 301.45L751.20 313.85L751.29 327.10L751.37 340.30L751.44 352.07L751.50 360.89L751.55 365.93L751.58 367.77L751.60 368.00L751.62 367.76L751.65 365.86L751.70 360.66L751.76 351.60L751.83 339.57L751.91 326.16L752.00 312.75L752.09 300.25L752.19 289.13L752.30 279.68L752.42 272.05L752.54 266.39L752.67 262.84L752.80 261.60L752.93 262.81L753.06 266.27L753.18 271.78L753.30 279.16L753.41 288.25L753.51 298.83L753.60 310.56L753.69 322.87L753.77 334.83L753.84 345.19L753.90 352.71L753.95 356.90L753.98 358.41L754.00 358.60L754.01 358.49L754.04 357.63L754.09 355.17L754.13 350.50L754.19 343.60L754.26 334.99L754.33 325.48L754.41 315.90L754.49 306.89L754.58 298.92L754.68 292.30L754.78 287.29L754.89 284.12L755.00 283.00L755.09 283.85L755.17 286.22L755.26 289.88L755.33 294.54L755.41 299.87L755.47 305.49L755.54 310.99L755.59 315.93L755.65 319.96L755.69 322.89L755.73 324.73L755.76 325.65L755.79 325.96L755.80 326.00L755.83 325.80L755.90 324.21L755.99 319.80L756.10 311.93L756.22 301.19L756.37 288.88L756.53 276.31L756.70 264.38L756.88 253.67L757.08 244.49L757.30 237.05L757.52 231.50L757.75 228.02L758.00 226.80L758.16 228.09L758.31 231.80L758.45 237.74L758.58 245.80L758.71 255.91L758.83 268.03L758.94 282.06L759.04 297.76L759.13 314.49L759.21 330.85L759.28 344.48L759.34 353.06L759.38 356.38L759.40 356.80L759.43 356.39L759.49 353.15L759.57 344.74L759.67 331.31L759.79 315.14L759.92 298.54L760.06 282.93L760.22 268.94L760.39 256.86L760.57 246.77L760.76 238.72L760.96 232.79L761.18 229.09L761.40 227.80L761.58 229.10L761.75 232.81L761.91 238.77L762.07 246.87L762.21 257.04L762.35 269.25L762.47 283.41L762.59 299.33L762.69 316.38L762.78 333.20L762.86 347.40L762.93 356.43L762.98 359.95L763.00 360.40L763.03 359.66L763.09 354.00L763.17 340.54L763.27 321.53L763.39 301.05L763.52 281.65L763.66 264.29L763.82 249.24L763.99 236.47L764.17 225.95L764.36 217.62L764.56 211.52L764.78 207.72L765.00 206.40L765.20 207.74L765.39 211.60L765.58 217.81L765.75 226.31L765.91 237.11L766.06 250.32L766.21 266.10L766.34 284.68L766.45 306.27L766.56 330.63L766.65 355.98L766.72 377.00L766.77 387.18L766.80 388.60L766.83 385.02L766.89 363.30L766.97 329.49L767.07 296.87L767.19 268.99L767.32 245.66L767.46 226.16L767.62 209.86L767.79 196.35L767.97 185.36L768.16 176.74L768.36 170.45L768.58 166.55L768.80 165.20L769.02 166.51L769.24 170.28L769.44 176.33L769.63 184.57L769.81 194.96L769.98 207.52L770.14 222.23L770.28 239.03L770.41 257.50L770.53 276.46L770.63 293.37L770.71 304.78L770.77 309.40L770.80 310.00L770.83 309.58L770.89 306.30L770.97 297.79L771.07 284.23L771.19 267.95L771.32 251.28L771.46 235.61L771.62 221.60L771.79 209.49L771.97 199.38L772.16 191.33L772.36 185.39L772.58 181.69L772.80 180.40L773.11 181.71L773.41 185.48L773.70 191.54L773.97 199.78L774.22 210.18L774.46 222.74L774.68 237.47L774.88 254.30L775.06 272.81L775.22 291.84L775.36 308.84L775.48 320.33L775.56 324.99L775.60 325.60L775.63 325.20L775.69 322.10L775.77 313.99L775.87 300.94L775.99 285.10L776.12 268.73L776.26 253.27L776.42 239.38L776.59 227.36L776.77 217.31L776.96 209.29L777.16 203.38L777.38 199.69L777.60 198.40L777.87 199.72L778.12 203.50L778.37 209.58L778.60 217.87L778.82 228.33L779.02 241.00L779.21 255.90L779.38 273.00L779.54 291.97L779.68 311.74L779.80 329.74L779.89 342.19L779.96 347.33L780.00 348.00L780.02 347.75L780.07 345.75L780.14 340.32L780.22 330.91L780.31 318.52L780.41 304.80L780.53 291.18L780.65 278.51L780.79 267.30L780.93 257.78L781.09 250.11L781.25 244.41L781.42 240.85L781.60 239.60L781.98 240.80L782.34 244.24L782.69 249.71L783.02 257.02L783.32 266.02L783.61 276.46L783.88 287.99L784.12 300.03L784.35 311.65L784.54 321.63L784.71 328.82L784.85 332.80L784.95 334.22L785.00 334.40L785.04 334.27L785.11 333.19L785.20 330.15L785.32 324.50L785.46 316.34L785.62 306.45L785.79 295.83L785.98 285.36L786.18 275.69L786.40 267.24L786.63 260.29L786.88 255.06L787.13 251.76L787.40 250.60L787.63 251.92L787.86 255.71L788.07 261.79L788.27 270.09L788.46 280.57L788.64 293.26L788.81 308.20L788.96 325.37L789.10 344.45L789.22 364.40L789.32 382.65L789.41 395.35L789.47 400.61L789.50 401.30L789.53 400.84L789.59 397.21L789.68 387.94L789.78 373.47L789.90 356.41L790.04 339.20L790.19 323.18L790.36 308.95L790.54 296.70L790.73 286.51L790.93 278.39L791.14 272.42L791.37 268.70L791.60 267.40L791.86 268.64L792.10 272.18L792.34 277.82L792.56 285.41L792.77 294.81L792.96 305.85L793.14 318.25L793.31 331.50L793.46 344.70L793.59 356.47L793.70 365.29L793.80 370.33L793.87 372.17L793.90 372.40L793.92 372.36L793.95 372.00L793.99 370.94L794.05 368.86L794.11 365.55L794.18 361.04L794.26 355.58L794.35 349.58L794.44 343.51L794.54 337.81L794.65 332.86L794.76 328.99L794.88 326.49L795.00 325.60L795.19 326.63L795.37 329.55L795.54 334.12L795.71 340.08L795.86 347.13L796.01 354.91L796.14 362.93L796.26 370.58L796.37 377.21L796.47 382.31L796.56 385.62L796.62 387.33L796.68 387.93L796.70 388.00L796.73 387.83L796.78 386.48L796.86 382.69L796.96 375.82L797.07 366.20L797.19 354.91L797.33 343.13L797.48 331.79L797.64 321.49L797.81 312.59L797.99 305.34L798.18 299.91L798.39 296.50L798.60 295.30L798.86 296.60L799.10 300.33L799.34 306.32L799.56 314.45L799.77 324.68L799.96 336.97L800.14 351.28L800.31 367.42L800.46 384.83L800.59 402.17L800.70 417.00L800.80 426.56L800.87 430.32L800.90 430.80L800.94 430.04L801.01 424.29L801.11 410.64L801.24 391.44L801.38 370.84L801.54 351.36L801.72 333.96L801.92 318.88L802.13 306.10L802.36 295.56L802.60 287.23L802.85 281.12L803.12 277.32L803.40 276.00L803.65 277.27L803.88 280.92L804.10 286.76L804.32 294.66L804.52 304.54L804.70 316.28L804.87 329.74L805.03 344.55L805.18 359.95L805.30 374.47L805.41 386.05L805.50 393.04L805.57 395.67L805.60 396.00L805.62 395.88L805.66 394.95L805.72 392.28L805.79 387.27L805.87 379.92L805.96 370.84L806.06 360.93L806.17 351.01L806.29 341.75L806.42 333.59L806.55 326.85L806.69 321.76L806.84 318.53L807.00 317.40L807.25 318.45L807.48 321.42L807.70 326.08L807.92 332.17L808.12 339.41L808.30 347.42L808.47 355.73L808.63 363.72L808.78 370.71L808.90 376.11L809.01 379.65L809.10 381.49L809.17 382.12L809.20 382.20L809.24 382.07L809.31 381.02L809.40 378.03L809.52 372.48L809.66 364.45L809.82 354.69L809.99 344.17L810.18 333.79L810.38 324.18L810.60 315.77L810.83 308.85L811.08 303.65L811.33 300.35L811.60 299.20L811.97 300.38L812.32 303.74L812.66 309.06L812.97 316.16L813.27 324.83L813.55 334.81L813.81 345.70L814.05 356.88L814.26 367.43L814.46 376.26L814.62 382.47L814.75 385.85L814.85 387.05L814.90 387.20L814.97 386.84L815.13 383.98L815.33 376.44L815.59 364.14L815.88 348.96L816.21 333.07L816.58 317.92L816.98 304.25L817.42 292.36L817.88 282.39L818.37 274.43L818.89 268.55L819.43 264.88L820.00 263.60L820.29 264.38L820.57 266.55L820.83 269.88L821.08 274.07L821.32 278.82L821.54 283.75L821.74 288.50L821.93 292.69L822.10 296.06L822.25 298.47L822.38 299.97L822.48 300.71L822.56 300.97L822.60 301.00L822.66 300.91L822.78 300.22L822.94 298.21L823.14 294.36L823.37 288.53L823.63 281.07L823.92 272.63L824.23 263.93L824.57 255.61L824.93 248.13L825.32 241.88L825.73 237.11L826.15 234.07L826.60 233.00L827.36 234.23L828.09 237.77L828.78 243.40L829.43 250.98L830.05 260.36L830.62 271.36L831.16 283.72L831.65 296.90L832.09 310.01L832.48 321.67L832.82 330.39L833.10 335.36L833.30 337.17L833.40 337.40L833.46 337.32L833.58 336.69L833.74 334.88L833.94 331.38L834.17 326.03L834.43 319.10L834.72 311.17L835.03 302.91L835.37 294.93L835.73 287.72L836.12 281.65L836.53 277.01L836.95 274.04L837.40 273.00L837.96 274.02L838.49 276.92L839.00 281.45L839.48 287.35L839.93 294.33L840.36 302.01L840.75 309.90L841.11 317.40L841.44 323.90L841.73 328.86L841.97 332.09L842.18 333.75L842.33 334.33L842.40 334.40L842.47 334.30L842.62 333.45L842.83 331.02L843.07 326.43L843.36 319.61L843.69 311.09L844.05 301.67L844.44 292.16L844.87 283.20L845.32 275.26L845.80 268.67L846.31 263.68L846.84 260.51L847.40 259.40L847.80 260.30L848.19 262.83L848.55 266.73L848.90 271.74L849.22 277.52L849.53 283.69L849.81 289.79L850.07 295.36L850.31 299.98L850.51 303.37L850.69 305.50L850.84 306.58L850.95 306.95L851.00 307.00L851.08 306.85L851.25 305.65L851.48 302.27L851.75 296.06L852.08 287.23L852.44 276.68L852.85 265.50L853.29 254.61L853.76 244.63L854.27 235.96L854.81 228.86L855.38 223.54L855.97 220.18L856.60 219.00L857.20 220.32L857.78 224.12L858.33 230.23L858.85 238.56L859.34 249.10L859.79 261.89L860.22 276.98L860.61 294.39L860.96 313.89L861.27 334.52L861.54 353.76L861.76 367.46L861.92 373.24L862.00 374.00L862.10 373.25L862.29 367.54L862.56 353.99L862.89 334.89L863.27 314.35L863.70 294.90L864.18 277.53L864.70 262.46L865.25 249.69L865.85 239.15L866.49 230.83L867.16 224.72L867.86 220.92L868.60 219.60L869.25 220.58L869.87 223.36L870.46 227.68L871.01 233.28L871.54 239.86L872.03 247.01L872.49 254.27L872.90 261.07L873.28 266.85L873.62 271.21L873.91 274.01L874.14 275.45L874.31 275.94L874.40 276.00L874.49 275.92L874.67 275.29L874.91 273.47L875.21 269.95L875.56 264.57L875.95 257.61L876.38 249.65L876.85 241.37L877.36 233.37L877.90 226.14L878.48 220.06L879.09 215.41L879.73 212.45L880.40 211.40L881.14 212.50L881.84 215.65L882.51 220.60L883.15 227.12L883.75 234.97L884.30 243.81L884.82 253.16L885.30 262.39L885.73 270.70L886.11 277.31L886.44 281.74L886.71 284.08L886.90 284.90L887.00 285.00L887.07 284.97L887.20 284.72L887.39 284.00L887.62 282.55L887.89 280.20L888.19 276.93L888.52 272.84L888.88 268.20L889.27 263.37L889.69 258.71L890.13 254.59L890.59 251.31L891.09 249.17L891.60 248.40L892.38 249.60L893.13 253.04L893.84 258.50L894.51 265.81L895.15 274.80L895.74 285.22L896.29 296.74L896.80 308.75L897.25 320.34L897.66 330.29L898.00 337.44L898.29 341.40L898.50 342.82L898.60 343.00L898.69 342.89L898.88 342.02L899.14 339.53L899.46 334.82L899.83 327.86L900.25 319.19L900.71 309.62L901.21 300.00L901.76 290.96L902.34 282.96L902.95 276.32L903.60 271.30L904.28 268.12L905.00 267.00L905.85 268.00L906.66 270.82L907.43 275.23L908.16 280.96L908.85 287.70L909.50 295.06L910.09 302.58L910.64 309.66L911.14 315.72L911.58 320.32L911.95 323.29L912.26 324.81L912.49 325.34L912.60 325.40L912.72 325.34L912.96 324.86L913.28 323.45L913.68 320.70L914.14 316.41L914.66 310.70L915.24 303.99L915.87 296.81L916.55 289.72L917.27 283.20L918.04 277.63L918.85 273.34L919.71 270.58L920.60 269.60L921.43 270.32L922.22 272.34L922.97 275.40L923.68 279.24L924.35 283.55L924.98 287.97L925.56 292.18L926.09 295.85L926.58 298.77L927.00 300.85L927.37 302.12L927.67 302.76L927.89 302.97L928.00 303.00L928.16 302.92L928.49 302.29L928.94 300.47L929.48 296.95L930.12 291.57L930.84 284.61L931.63 276.65L932.49 268.37L933.42 260.37L934.42 253.14L935.48 247.06L936.60 242.41L937.77 239.45L939.00 238.40L940.19 239.40L941.32 242.22L942.39 246.62L943.41 252.34L944.37 259.07L945.27 266.43L946.10 273.93L946.87 281.00L947.56 287.05L948.17 291.64L948.70 294.59L949.13 296.11L949.44 296.64L949.60 296.70L949.81 296.59L950.22 295.74L950.79 293.29L951.49 288.67L952.30 281.81L953.21 273.24L954.22 263.78L955.32 254.23L956.50 245.25L957.77 237.29L959.12 230.69L960.54 225.69L962.03 222.51L963.60 221.40L964.41 221.65L965.22 222.40L966.03 223.67L966.84 225.46L967.65 227.80L968.45 230.72L969.26 234.26L970.07 238.47L970.88 243.42L971.69 249.20L972.50 255.92" fill="none" stroke="#000" stroke-width="1.39" stroke-linejoin="round" stroke-linecap="butt"/></g>
<path d="M78.50 442.5v4.86M78.5 37.50h-4.86M301.50 442.5v4.86M78.5 138.50h-4.86M525.50 442.5v4.86M78.5 240.50h-4.86M748.50 442.5v4.86M78.5 341.50h-4.86M972.50 442.5v4.86M78.5 442.50h-4.86" stroke="#000" stroke-width="1.11" fill="none"/>
<path d="M145.50 442.5v2.78M78.5 412.50h-2.78M185.50 442.5v2.78M78.5 394.50h-2.78M213.50 442.5v2.78M78.5 381.50h-2.78M234.50 442.5v2.78M78.5 371.50h-2.78M252.50 442.5v2.78M78.5 363.50h-2.78M267.50 442.5v2.78M78.5 356.50h-2.78M280.50 442.5v2.78M78.5 351.50h-2.78M291.50 442.5v2.78M78.5 345.50h-2.78M369.50 442.5v2.78M78.5 310.50h-2.78M408.50 442.5v2.78M78.5 292.50h-2.78M436.50 442.5v2.78M78.5 280.50h-2.78M458.50 442.5v2.78M78.5 270.50h-2.78M475.50 442.5v2.78M78.5 262.50h-2.78M490.50 442.5v2.78M78.5 255.50h-2.78M503.50 442.5v2.78M78.5 249.50h-2.78M515.50 442.5v2.78M78.5 244.50h-2.78M592.50 442.5v2.78M78.5 209.50h-2.78M632.50 442.5v2.78M78.5 191.50h-2.78M660.50 442.5v2.78M78.5 179.50h-2.78M681.50 442.5v2.78M78.5 169.50h-2.78M699.50 442.5v2.78M78.5 161.50h-2.78M714.50 442.5v2.78M78.5 154.50h-2.78M727.50 442.5v2.78M78.5 148.50h-2.78M738.50 442.5v2.78M78.5 143.50h-2.78M816.50 442.5v2.78M78.5 108.50h-2.78M855.50 442.5v2.78M78.5 90.50h-2.78M883.50 442.5v2.78M78.5 77.50h-2.78M905.50 442.5v2.78M78.5 67.50h-2.78M922.50 442.5v2.78M78.5 59.50h-2.78M937.50 442.5v2.78M78.5 53.50h-2.78M950.50 442.5v2.78M78.5 47.50h-2.78M962.50 442.5v2.78M78.5 42.50h-2.78" stroke="#000" stroke-width="0.83" fill="none"/>
<rect x="78.5" y="37.5" width="894.0" height="405.0" fill="none" stroke="#000" stroke-width="1.11"/>
<text x="289.85" y="29.20" font-size="17" textLength="99.09" lengthAdjust="spacingAndGlyphs" font-family="Liberation Sans, sans-serif" fill="#000">Generalised</text>
<text x="394.55" y="29.20" font-size="17" textLength="112.31" lengthAdjust="spacingAndGlyphs" font-family="Liberation Sans, sans-serif" fill="#000">Lomb-Scargle</text>
<text x="514.13" y="29.20" font-size="17" textLength="103.95" lengthAdjust="spacingAndGlyphs" font-family="Liberation Sans, sans-serif" fill="#000">periodogram</text>
<text x="624.09" y="29.20" font-size="17" textLength="15.06" lengthAdjust="spacingAndGlyphs" font-family="Liberation Sans, sans-serif" fill="#000">of</text>
<text x="647.18" y="29.20" font-size="17" textLength="45.92" lengthAdjust="spacingAndGlyphs" font-family="Liberation Sans, sans-serif" fill="#000">ASCC</text>
<text x="697.16" y="29.20" font-size="17" textLength="62.77" lengthAdjust="spacingAndGlyphs" font-family="Liberation Sans, sans-serif" fill="#000">400550</text>
<text x="478.59" y="481.70" font-size="14.1" textLength="43.68" lengthAdjust="spacingAndGlyphs" font-family="Liberation Sans, sans-serif" fill="#000">Period</text>
<text x="527.12" y="481.70" font-size="14.1" textLength="43.98" lengthAdjust="spacingAndGlyphs" font-family="Liberation Sans, sans-serif" fill="#000">(days)</text>
<text x="63.19" y="462.00" font-size="14.1" textLength="29.32" lengthAdjust="spacingAndGlyphs" font-family="Liberation Sans, sans-serif" fill="#000">0.01</text>
<text x="291.17" y="462.00" font-size="14.1" textLength="20.30" lengthAdjust="spacingAndGlyphs" font-family="Liberation Sans, sans-serif" fill="#000">0.1</text>
<text x="521.55" y="462.00" font-size="14.1" textLength="7.79" lengthAdjust="spacingAndGlyphs" font-family="Liberation Sans, sans-serif" fill="#000">1</text>
<text x="739.59" y="462.00" font-size="14.1" textLength="17.06" lengthAdjust="spacingAndGlyphs" font-family="Liberation Sans, sans-serif" fill="#000">10</text>
<text x="958.48" y="462.00" font-size="14.1" textLength="26.37" lengthAdjust="spacingAndGlyphs" font-family="Liberation Sans, sans-serif" fill="#000">100</text>
<text x="44.10" y="44.10" font-size="14.1" textLength="16.42" lengthAdjust="spacingAndGlyphs" font-family="Liberation Sans, sans-serif" fill="#000">10</text>
<text x="60.20" y="39.00" font-size="10.6" textLength="7.00" lengthAdjust="spacingAndGlyphs" font-family="Liberation Sans, sans-serif" fill="#000">0</text>
<text x="35.76" y="145.10" font-size="14.1" textLength="16.81" lengthAdjust="spacingAndGlyphs" font-family="Liberation Sans, sans-serif" fill="#000">10</text>
<text x="60.80" y="140.00" font-size="10.6" textLength="6.20" lengthAdjust="spacingAndGlyphs" font-family="Liberation Sans, sans-serif" fill="#000">1</text>
<text x="35.76" y="247.10" font-size="14.1" textLength="16.81" lengthAdjust="spacingAndGlyphs" font-family="Liberation Sans, sans-serif" fill="#000">10</text>
<text x="61.39" y="242.00" font-size="10.6" textLength="5.43" lengthAdjust="spacingAndGlyphs" font-family="Liberation Sans, sans-serif" fill="#000">2</text>
<text x="35.76" y="348.10" font-size="14.1" textLength="16.82" lengthAdjust="spacingAndGlyphs" font-family="Liberation Sans, sans-serif" fill="#000">10</text>
<text x="61.62" y="343.00" font-size="10.6" textLength="5.05" lengthAdjust="spacingAndGlyphs" font-family="Liberation Sans, sans-serif" fill="#000">3</text>
<text x="35.76" y="449.10" font-size="14.1" textLength="16.82" lengthAdjust="spacingAndGlyphs" font-family="Liberation Sans, sans-serif" fill="#000">10</text>
<text x="61.40" y="444.00" font-size="10.6" textLength="6.19" lengthAdjust="spacingAndGlyphs" font-family="Liberation Sans, sans-serif" fill="#000">4</text>
<text transform="translate(26.2,261.9) rotate(-90)" x="-1.0" y="0" font-size="14.2" textLength="41.8" lengthAdjust="spacingAndGlyphs" font-family="Liberation Sans, sans-serif" fill="#000">Power</text>
<path d="M54 136.55h6M54 238.55h6M54 339.55h6M54 440.55h6" stroke="#000" stroke-width="1.0" fill="none"/>
</svg></body></html>
